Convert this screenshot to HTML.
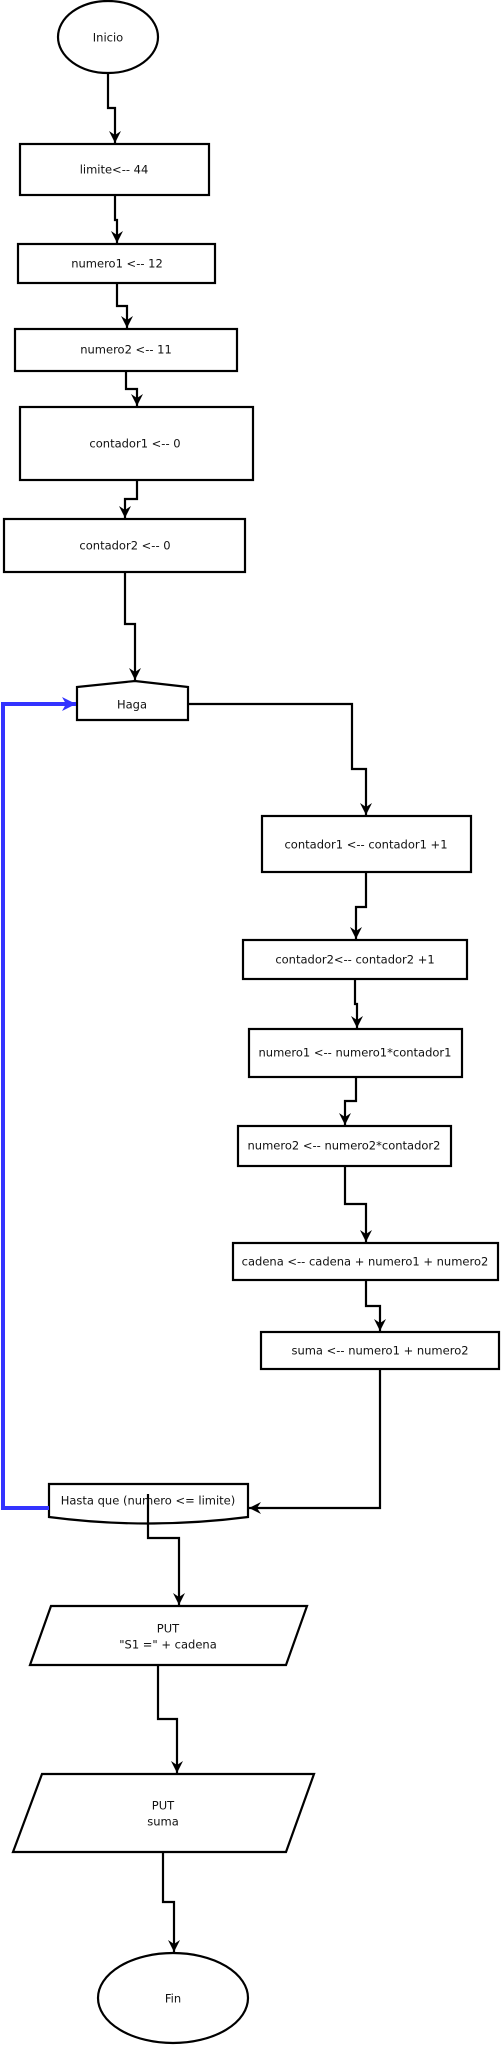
<!DOCTYPE html>
<html><head><meta charset="utf-8"><style>
html,body{margin:0;padding:0;background:#fff;}
svg{display:block;}
text{font-family:"DejaVu Sans","Liberation Sans",sans-serif;font-size:11.5px;fill:#111;text-anchor:middle;dominant-baseline:middle;}
</style></head><body>
<svg width="501" height="2047" viewBox="0 0 501 2047" xmlns="http://www.w3.org/2000/svg">
<defs>
<marker id="a" markerWidth="14" markerHeight="14" refX="12" refY="7" orient="auto" markerUnits="userSpaceOnUse">
<path d="M0,1 L12,7 L0,13 L4,7 Z" fill="#000"/></marker>
<marker id="b" markerWidth="16" markerHeight="16" refX="14" refY="8" orient="auto" markerUnits="userSpaceOnUse">
<path d="M0,1 L14,8 L0,15 L4,8 Z" fill="#33f"/></marker>
</defs>
<g fill="#fff" stroke="#000" stroke-width="2.2">
<ellipse cx="108" cy="37" rx="50" ry="36"/>
<rect x="20" y="144" width="189" height="51"/>
<rect x="18" y="244" width="197" height="39"/>
<rect x="15" y="329" width="222" height="42"/>
<rect x="20" y="407" width="233" height="73"/>
<rect x="4" y="519" width="241" height="53"/>
<path d="M77,720 L77,687 L135,681 L188,687 L188,720 Z"/>
<rect x="262" y="816" width="209" height="56"/>
<rect x="243" y="940" width="224" height="39"/>
<rect x="249" y="1029" width="213" height="48"/>
<rect x="238" y="1126" width="213" height="40"/>
<rect x="233" y="1243" width="265" height="37"/>
<rect x="261" y="1332" width="238" height="37"/>
<path d="M49,1484 L248,1484 L248,1517 Q148,1530 49,1517 Z"/>
<path d="M51,1606 L307,1606 L286,1665 L30,1665 Z"/>
<path d="M42,1774 L314,1774 L286,1852 L13,1852 Z"/>
<ellipse cx="173" cy="1998" rx="75" ry="45"/>
</g>
<g fill="none" stroke="#000" stroke-width="2.2">
<path d="M108,74 V108 H115 V143" marker-end="url(#a)"/>
<path d="M115,195 V220 H117 V243" marker-end="url(#a)"/>
<path d="M117,283 V306 H127 V328" marker-end="url(#a)"/>
<path d="M126,371 V389 H137 V406" marker-end="url(#a)"/>
<path d="M137,480 V499 H125 V518" marker-end="url(#a)"/>
<path d="M125,572 V624 H135 V680" marker-end="url(#a)"/>
<path d="M188,704 H352 V769 H366 V815" marker-end="url(#a)"/>
<path d="M366,872 V907 H356 V939" marker-end="url(#a)"/>
<path d="M355,979 V1004 H357 V1028" marker-end="url(#a)"/>
<path d="M356,1077 V1101 H345 V1125" marker-end="url(#a)"/>
<path d="M345,1166 V1204 H366 V1242" marker-end="url(#a)"/>
<path d="M366,1280 V1306 H380 V1331" marker-end="url(#a)"/>
<path d="M380,1369 V1508 H249" marker-end="url(#a)"/>
<path d="M148,1494 V1538 H179 V1605" marker-end="url(#a)"/>
<path d="M158,1665 V1719 H177 V1773" marker-end="url(#a)"/>
<path d="M163,1852 V1902 H174 V1952" marker-end="url(#a)"/>
</g>
<path d="M49,1508 H3 V704 H76" fill="none" stroke="#33f" stroke-width="4" marker-end="url(#b)"/>
<text x="108" y="38">Inicio</text>
<text x="114" y="170">limite&lt;-- 44</text>
<text x="117" y="264">numero1 &lt;-- 12</text>
<text x="126" y="350">numero2 &lt;-- 11</text>
<text x="135" y="444">contador1 &lt;-- 0</text>
<text x="125" y="546">contador2 &lt;-- 0</text>
<text x="132" y="705">Haga</text>
<text x="366" y="845">contador1 &lt;-- contador1 +1</text>
<text x="355" y="960">contador2&lt;-- contador2 +1</text>
<text x="355" y="1053">numero1 &lt;-- numero1*contador1</text>
<text x="344" y="1146">numero2 &lt;-- numero2*contador2</text>
<text x="365" y="1262">cadena &lt;-- cadena + numero1 + numero2</text>
<text x="380" y="1351">suma &lt;-- numero1 + numero2</text>
<text x="148" y="1501">Hasta que (numero &lt;= limite)</text>
<text x="168" y="1629">PUT</text>
<text x="168" y="1645">"S1 =" + cadena</text>
<text x="163" y="1806">PUT</text>
<text x="163" y="1822">suma</text>
<text x="173" y="1999">Fin</text>
</svg>
</body></html>
